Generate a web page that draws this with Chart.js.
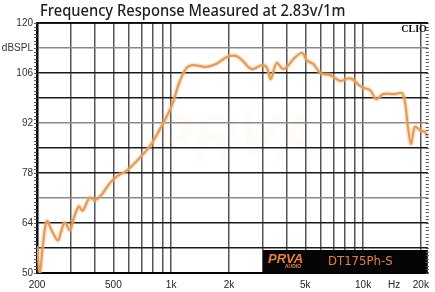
<!DOCTYPE html>
<html>
<head>
<meta charset="utf-8">
<script src="https://cdn.jsdelivr.net/npm/chart.js@4/dist/chart.umd.min.js"></script>
<style>
html,body{margin:0;padding:0;background:#fff;}
#wrap{width:435px;height:292px;position:relative;}
</style>
</head>
<body>
<div id="wrap"><canvas id="c" width="435" height="292"></canvas></div>
<script>
// ---- data ----
const freqs = [200, 207, 214, 225, 239, 257, 266, 279, 297, 311, 330, 346, 376, 400, 434, 478, 526, 585, 667, 770, 868, 1001, 1101, 1197, 1287, 1400, 1520, 1713, 1953, 2175, 2337, 2631, 2965, 3148, 3302, 3546, 3855, 4450, 4835, 5072, 5513, 5995, 6756, 7611, 8600, 9776, 10884, 11693, 12713, 14671, 15951, 16533, 17133, 17760, 18627, 19762, 20976, 21740];
const spl = [57.5, 50, 57.3, 64.5, 61.8, 59.1, 61.3, 64.1, 62.0, 65.4, 68.6, 67.5, 71.1, 70.4, 71.9, 75.1, 77.2, 78.6, 81.6, 85.3, 90.0, 96.5, 103.2, 107.3, 108.2, 108.0, 107.7, 108.5, 110.5, 110.8, 109.6, 107.1, 108.2, 107.6, 104.3, 108.8, 107.1, 110.5, 111.6, 109.6, 108.5, 106.0, 105.4, 103.8, 104.5, 102.1, 101.2, 98.7, 100.1, 100.1, 100.4, 97.9, 90.9, 86.1, 90.9, 90.0, 89.5, 87.8];

const xTickValues = [200, 300, 400, 500, 600, 700, 800, 900, 1000, 2000, 3000, 4000, 5000, 6000, 7000, 8000, 9000, 10000, 14500, 20000];
const xLabelValues = [200, 500, 1000, 2000, 5000, 10000, 14500, 20000];
const xLabelTexts = ['200', '500', '1k', '2k', '5k', '10k', 'Hz', '20k'];
const yTickValues = [50, 57, 64, 71, 78, 85, 92, 99, 106, 113, 120];
const yLabelValues = [50, 64, 78, 92, 106, 113, 120];
const yLabelTexts = ['50', '64', '78', '92', '106', 'dBSPL', '120'];
const yLightLines = [71, 92, 113];
const titleText = 'Frequency Response Measured at 2.83v/1m';
const modelText = 'DT175Ph-S';
const brandText = 'PRVA';
const brandSub = 'AUDIO';
const clioText = 'CLIO';

const points = freqs.map((f, i) => ({x: f, y: spl[i]}));

const decor = {
  id: 'decor',
  beforeDatasetsDraw(chart) {
    const {ctx, chartArea: a} = chart;
    ctx.save();
    // faint watermark
    ctx.globalAlpha = 0.03;
    ctx.fillStyle = '#e0802a';
    ctx.font = 'italic bold 62px "Liberation Sans"';
    ctx.textAlign = 'center';
    ctx.textBaseline = 'middle';
    ctx.fillText(brandText, 235, 140);
    ctx.globalAlpha = 1;
    // brand box
    ctx.fillStyle = '#050505';
    ctx.fillRect(263, 250, a.right - 263, 23);
    ctx.restore();
  },
  afterDraw(chart) {
    const {ctx, chartArea: a, scales: {y}} = chart;
    ctx.save();
    // title (condensed)
    ctx.save();
    ctx.translate(40, 11);
    ctx.scale(0.865, 1);
    ctx.fillStyle = '#1e1e1e';
    ctx.font = '500 17px "Noto Sans"';
    ctx.textAlign = 'left';
    ctx.textBaseline = 'middle';
    ctx.fillText(titleText, 0, 0);
    ctx.restore();
    // minor ticks left + right
    ctx.strokeStyle = '#555';
    ctx.lineWidth = 1;
    for (let v = 50; v <= 120; v += 1) {
      const py = Math.round(y.getPixelForValue(v)) + 0.5;
      ctx.beginPath(); ctx.moveTo(a.left - 3, py); ctx.lineTo(a.left, py); ctx.stroke();
      ctx.beginPath(); ctx.moveTo(a.right - 2, py); ctx.lineTo(a.right + 1, py); ctx.stroke();
    }
    ctx.strokeStyle = '#000';
    ctx.lineWidth = 1.5;
    ctx.beginPath(); ctx.moveTo(a.left, a.top); ctx.lineTo(a.right, a.top); ctx.stroke();
    // CLIO
    ctx.fillStyle = '#111';
    ctx.font = 'bold 10px "Liberation Serif"';
    ctx.textAlign = 'right';
    ctx.textBaseline = 'middle';
    ctx.fillText(clioText, a.right - 1, 29);
    // brand
    ctx.fillStyle = '#e9803f';
    ctx.font = 'italic bold 13px "Liberation Sans"';
    ctx.textAlign = 'left';
    ctx.fillText(brandText, 268, 259);
    ctx.font = 'bold 5px "Liberation Sans"';
    ctx.fillText(brandSub, 285, 267);
    ctx.font = '13px "Liberation Sans Narrow", "DejaVu Sans Condensed"';
    ctx.fillText(modelText, 328, 262);
    ctx.restore();
  }
};

new Chart(document.getElementById('c'), {
  type: 'line',
  data: {
    datasets: [
      {data: points, borderColor: 'rgba(245,180,120,0.35)', borderWidth: 5, pointRadius: 0, tension: 0.35, fill: false},
      {data: points, borderColor: '#de8e42', borderWidth: 2.2, pointRadius: 0, tension: 0.35, fill: false}
    ]
  },
  options: {
    responsive: false,
    animation: false,
    devicePixelRatio: 1,
    layout: {padding: {top: 23, right: 5, left: 0, bottom: 0}},
    plugins: {legend: {display: false}, tooltip: {enabled: false}, title: {display: false}},
    scales: {
      x: {
        type: 'logarithmic', min: 200, max: 21740,
        afterBuildTicks: s => { s.ticks = xTickValues.map(v => ({value: v})); },
        afterFit: s => { s.height = 19; },
        ticks: {
          autoSkip: false, maxRotation: 0, padding: 6, color: '#222',
          font: {family: '"Liberation Sans"', size: 10},
          callback: v => { const i = xLabelValues.indexOf(v); return i >= 0 ? xLabelTexts[i] : ''; }
        },
        grid: {
          drawTicks: false, lineWidth: 1.5,
          color: c => (c.tick && c.tick.value === 14500) ? 'rgba(0,0,0,0)' : '#555'
        },
        border: {display: true, color: '#000', width: 2}
      },
      y: {
        min: 50, max: 120,
        afterBuildTicks: s => { s.ticks = yTickValues.map(v => ({value: v})); },
        afterFit: s => { s.width = 37; },
        ticks: {
          autoSkip: false, padding: 4, color: '#333',
          font: {family: '"Liberation Sans"', size: 10},
          callback: v => { const i = yLabelValues.indexOf(v); return i >= 0 ? yLabelTexts[i] : ''; }
        },
        grid: {
          drawTicks: false, lineWidth: 1.4,
          color: c => (c.tick && yLightLines.includes(c.tick.value)) ? '#8a8a8a' : '#1a1a1a'
        },
        border: {display: true, color: '#000', width: 2.5}
      }
    }
  },
  plugins: [decor]
});
</script>
</body>
</html>
